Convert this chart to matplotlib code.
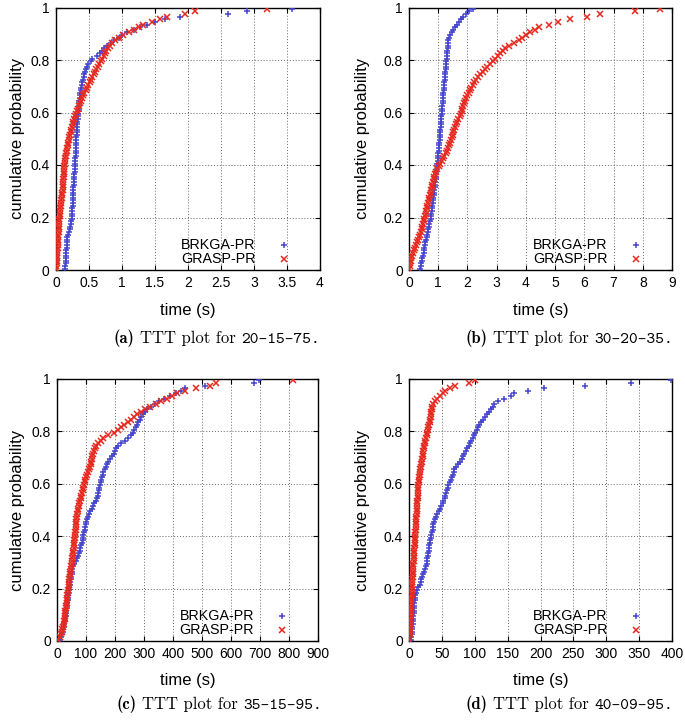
import numpy as np
import matplotlib
matplotlib.use('Agg')
import matplotlib.pyplot as plt
from matplotlib.offsetbox import TextArea, HPacker, AnnotationBbox

plt.rcParams['font.family'] = ['Liberation Sans', 'DejaVu Sans']

# sorted time-to-target values (s) (100 runs shown per curve)
brkga_a = [0.135, 0.14, 0.145, 0.148, 0.15, 0.152, 0.155, 0.158, 0.162, 0.165,
           0.168, 0.17, 0.172, 0.175, 0.20, 0.21, 0.215, 0.22, 0.23, 0.235,
           0.24, 0.242, 0.245, 0.247, 0.25, 0.252, 0.254, 0.256, 0.258, 0.26,
           0.262, 0.265, 0.268, 0.27, 0.273, 0.276, 0.279, 0.282, 0.285, 0.288,
           0.29, 0.292, 0.294, 0.296, 0.298, 0.30, 0.302, 0.304, 0.306, 0.308,
           0.31, 0.312, 0.314, 0.316, 0.318, 0.32, 0.325, 0.33, 0.335, 0.34,
           0.343, 0.346, 0.35, 0.353, 0.356, 0.36, 0.365, 0.37, 0.378, 0.385,
           0.39, 0.40, 0.41, 0.42, 0.43, 0.44, 0.455, 0.47, 0.49, 0.53,
           0.55, 0.62, 0.66, 0.70, 0.73, 0.78, 0.83, 0.88, 0.95, 1.0,
           1.08, 1.18, 1.28, 1.38, 1.5, 1.65, 1.88, 2.6, 2.9, 3.58]
grasp_a = [0.0, 0.005, 0.01, 0.012, 0.015, 0.018, 0.02, 0.022, 0.025, 0.028,
           0.03, 0.032, 0.035, 0.037, 0.04, 0.042, 0.044, 0.046, 0.048, 0.05,
           0.054, 0.058, 0.062, 0.066, 0.07, 0.075, 0.08, 0.085, 0.09, 0.095,
           0.10, 0.103, 0.106, 0.109, 0.112, 0.115, 0.118, 0.121, 0.124, 0.127,
           0.13, 0.135, 0.14, 0.148, 0.155, 0.162, 0.17, 0.178, 0.186, 0.195,
           0.20, 0.21, 0.22, 0.23, 0.24, 0.25, 0.26, 0.275, 0.29, 0.305,
           0.32, 0.335, 0.35, 0.365, 0.38, 0.395, 0.41, 0.43, 0.45, 0.47,
           0.49, 0.51, 0.53, 0.55, 0.57, 0.59, 0.61, 0.63, 0.655, 0.68,
           0.70, 0.72, 0.74, 0.76, 0.79, 0.82, 0.85, 0.90, 0.96, 1.02,
           1.1, 1.18, 1.25, 1.32, 1.45, 1.58, 1.68, 1.95, 2.1, 3.2]

brkga_b = [0.38, 0.40, 0.42, 0.44, 0.46, 0.48, 0.50, 0.52, 0.53, 0.545,
           0.56, 0.58, 0.60, 0.62, 0.64, 0.66, 0.68, 0.70, 0.72, 0.74,
           0.755, 0.765, 0.775, 0.785, 0.795, 0.805, 0.815, 0.83, 0.845, 0.86,
           0.87, 0.88, 0.89, 0.90, 0.91, 0.92, 0.93, 0.94, 0.95, 0.96,
           0.97, 0.98, 0.99, 1.0, 1.005, 1.01, 1.02, 1.03, 1.04, 1.05,
           1.055, 1.06, 1.065, 1.07, 1.08, 1.09, 1.095, 1.10, 1.11, 1.12,
           1.125, 1.13, 1.14, 1.15, 1.16, 1.165, 1.17, 1.18, 1.19, 1.20,
           1.205, 1.21, 1.22, 1.225, 1.23, 1.24, 1.25, 1.26, 1.27, 1.28,
           1.285, 1.29, 1.30, 1.31, 1.32, 1.33, 1.34, 1.35, 1.38, 1.42,
           1.47, 1.52, 1.58, 1.64, 1.70, 1.78, 1.86, 1.95, 2.05, 2.18]
grasp_b = [0.0, 0.02, 0.04, 0.06, 0.08, 0.10, 0.13, 0.17, 0.21, 0.24,
           0.27, 0.30, 0.33, 0.36, 0.40, 0.43, 0.46, 0.49, 0.51, 0.53,
           0.55, 0.57, 0.59, 0.61, 0.63, 0.66, 0.68, 0.70, 0.72, 0.74,
           0.76, 0.78, 0.80, 0.82, 0.85, 0.87, 0.90, 0.93, 0.97, 1.02,
           1.07, 1.12, 1.16, 1.20, 1.25, 1.29, 1.33, 1.37, 1.41, 1.45,
           1.47, 1.49, 1.51, 1.53, 1.56, 1.60, 1.64, 1.69, 1.74, 1.78,
           1.80, 1.83, 1.86, 1.89, 1.92, 1.96, 2.00, 2.04, 2.08, 2.12,
           2.18, 2.24, 2.30, 2.36, 2.43, 2.52, 2.60, 2.68, 2.78, 2.88,
           2.96, 3.04, 3.12, 3.20, 3.29, 3.42, 3.58, 3.75, 3.88, 4.0,
           4.15, 4.3, 4.45, 4.8, 5.1, 5.5, 6.1, 6.55, 7.75, 8.6]

brkga_c = [12, 15, 18, 20, 22, 24, 25, 26, 28, 30,
           31, 32, 33, 34, 36, 37, 38, 39, 41, 42,
           43, 44, 46, 47, 48, 50, 51, 53, 55, 58,
           65, 69, 73, 76, 79, 81, 83, 86, 88, 90,
           91, 93, 95, 97, 99, 101, 103, 107, 111, 115,
           119, 124, 129, 134, 138, 141, 143, 145, 146, 148,
           150, 152, 154, 157, 160, 164, 168, 172, 177, 182,
           188, 195, 200, 205, 212, 222, 235, 245, 255, 262,
           267, 272, 276, 280, 285, 290, 296, 302, 312, 325,
           338, 352, 370, 390, 410, 428, 440, 510, 680, 698]
grasp_c = [5, 9, 13, 16, 18, 21, 23, 25, 26, 27,
           28, 29, 30, 31, 33, 34, 35, 36, 37, 39,
           40, 41, 42, 43, 44, 45, 46, 47, 49, 51,
           52, 53, 54, 55, 56, 57, 58, 59, 60, 62,
           63, 63, 64, 65, 65, 66, 67, 68, 69, 71,
           73, 75, 77, 79, 82, 84, 86, 88, 90, 93,
           96, 98, 101, 103, 107, 110, 113, 116, 118, 120,
           122, 124, 126, 130, 136, 142, 150, 160, 175, 195,
           210, 220, 232, 245, 255, 265, 275, 290, 305, 320,
           340, 360, 378, 395, 415, 440, 480, 527, 548, 815]

brkga_d = [3, 3.5, 4, 4.5, 5, 5.3, 5.6, 6, 6.3, 6.6,
           6.9, 7.2, 7.5, 7.8, 8, 8.5, 9, 9.5, 10, 12,
           14, 16, 17.5, 19, 20.5, 22, 23, 24, 25.5, 27,
           27.5, 28, 28.5, 29, 30, 30.5, 31, 32, 32.5, 33,
           34, 35, 36, 36.5, 37, 38, 39.5, 41, 43, 45,
           47, 49, 51, 52, 54, 55.5, 57, 58, 59, 60,
           62, 64, 66, 67, 68, 69, 71, 74, 77, 80,
           82, 84, 86, 88, 91, 93, 95, 97, 99, 101,
           103, 105, 107, 109, 112, 115, 118, 121, 124, 127,
           130, 136, 145, 155, 160, 181, 205, 267, 337, 398]
grasp_d = [0.5, 0.7, 0.9, 1.1, 1.3, 1.5, 1.7, 1.9, 2.1, 2.3,
           2.5, 2.7, 2.9, 3.1, 3.3, 3.5, 3.7, 3.9, 4.1, 4.3,
           4.5, 4.8, 5.0, 5.3, 5.6, 5.9, 6.1, 6.3, 6.6, 6.8,
           7.0, 7.3, 7.5, 7.8, 8.0, 8.3, 8.5, 8.8, 9.0, 9.3,
           9.5, 9.8, 10, 10.3, 10.5, 10.8, 11, 11.3, 11.5, 11.8,
           12, 12.2, 12.5, 12.7, 13, 13.2, 13.5, 13.7, 14, 14.3,
           14.7, 15.2, 15.7, 16.2, 16.8, 17.4, 18, 18.7, 19.3, 20,
           20.6, 21.2, 21.8, 22.4, 23, 24, 25, 26, 27, 28,
           28.8, 29.6, 30.4, 31.2, 32, 32.7, 33.4, 34, 34.7, 35.4,
           37, 39, 43, 47, 51, 55, 62, 70, 92, 100]

xticks_a = [0, 0.5, 1, 1.5, 2, 2.5, 3, 3.5, 4]
xticks_b = [0, 1, 2, 3, 4, 5, 6, 7, 8, 9]
xticks_c = [0, 100, 200, 300, 400, 500, 600, 700, 800, 900]
xticks_d = [0, 50, 100, 150, 200, 250, 300, 350, 400]
yticks = [0, 0.2, 0.4, 0.6, 0.8, 1]

labels = ['(a)', '(b)', '(c)', '(d)']
instances = ['20-15-75.', '30-20-35.', '35-15-95.', '40-09-95.']
series_names = ['BRKGA-PR', 'GRASP-PR']

W, H = 685, 720
# axes boxes in pixels: left, top, right, bottom
boxes = [(56, 7.5, 320, 270), (409, 7.5, 672, 270),
         (57, 379, 318, 641), (409, 379, 672, 641)]
ylab_x = [18, 362, 18, 362]
cap_x = [217, 569, 219, 569]
cap_y = [338, 338, 704, 704]

blue = '#4646cc'
red = '#e62a20'
fs_tick = 10
fs_key = 10.3
fs_lab = 12

fig = plt.figure(figsize=(W / 100, H / 100), dpi=100)

data = [(brkga_a, grasp_a, xticks_a), (brkga_b, grasp_b, xticks_b),
        (brkga_c, grasp_c, xticks_c), (brkga_d, grasp_d, xticks_d)]

for k in range(4):
    b_t, g_t, xt = data[k]
    l, t, r, btm = boxes[k]
    ax = fig.add_axes([l / W, 1 - btm / H, (r - l) / W, (btm - t) / H])

    for times, mk, col, ms in [(b_t, '+', blue, 4.5), (g_t, 'x', red, 3.8)]:
        tt = np.sort(np.array(times, dtype=float))
        p = (np.arange(len(tt)) + 0.5) / len(tt)
        ax.plot(tt, p, ls='none', marker=mk, ms=ms, mew=1.1, color=col, zorder=3)

    ax.set_xlim(xt[0], xt[-1])
    ax.set_ylim(0, 1)
    ax.set_xticks(xt)
    ax.set_xticklabels(['%g' % v for v in xt])
    ax.set_yticks(yticks)
    ax.set_yticklabels(['%g' % v for v in yticks])
    ax.tick_params(direction='in', length=3.5, width=0.8, top=True, right=True,
                   labelsize=fs_tick, pad=4.5, colors='black')
    ax.grid(True, color='#666666', lw=0.7, ls=(0, (1, 2)))
    ax.set_axisbelow(True)
    for s in ax.spines.values():
        s.set_linewidth(1.0)

    # key, bottom right like gnuplot
    ax.text(0.755, 0.095, series_names[0], transform=ax.transAxes, ha='right',
            va='center', fontsize=fs_key)
    ax.text(0.755, 0.042, series_names[1], transform=ax.transAxes, ha='right',
            va='center', fontsize=fs_key)
    ax.plot([0.862], [0.095], transform=ax.transAxes, marker='+', ms=4.5, mew=1.1,
            color=blue, ls='none')
    ax.plot([0.862], [0.042], transform=ax.transAxes, marker='x', ms=3.8, mew=1.1,
            color=red, ls='none')

    fig.text((l + r) / 2 / W, 1 - (btm + 40) / H, 'time (s)', ha='center',
             va='center', fontsize=fs_lab)
    fig.text(ylab_x[k] / W, 1 - (t + btm) / 2 / H, 'cumulative probability',
             rotation=90, ha='center', va='center', fontsize=fs_lab)

    parts = [TextArea(labels[k], textprops=dict(family='cmb10', fontsize=12)),
             TextArea('TTT plot for', textprops=dict(family='cmr10', fontsize=12)),
             TextArea(instances[k], textprops=dict(family='cmtt10', fontsize=12))]
    box = HPacker(children=parts, align='baseline', pad=0, sep=4)
    ab = AnnotationBbox(box, (cap_x[k] / W, 1 - cap_y[k] / H),
                        xycoords='figure fraction', frameon=False,
                        box_alignment=(0.5, 0.5))
    fig.add_artist(ab)

fig.savefig('out.png', dpi=100)
